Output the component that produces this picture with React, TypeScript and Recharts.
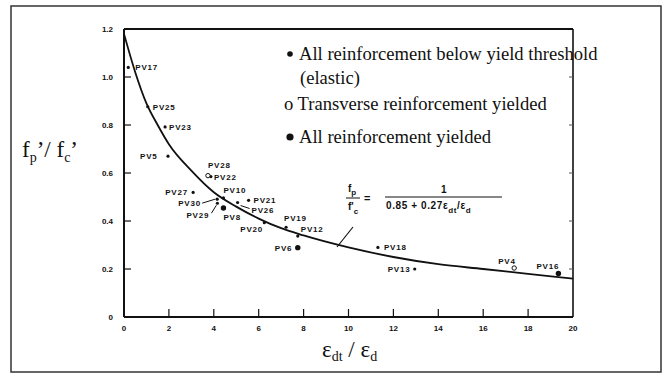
import React from 'react';
import { ComposedChart, Line, Scatter, XAxis, YAxis } from 'recharts';

const xDomain = [0, 20];
const yDomain = [0, 1.2];
const xTicks = [0, 2, 4, 6, 8, 10, 12, 14, 16, 18, 20];
const yTicks = [0, 0.2, 0.4, 0.6, 0.8, 1.0, 1.2];
const rightTicks = [0.2, 0.4, 0.6, 0.8, 1.0];

// design curve, read along its length
const curveX = [0, 0.5, 1, 1.5, 2, 3, 4, 5, 6, 7, 8, 10, 12, 14, 16, 18, 20];
const curveY = [1.18, 1.02, 0.89, 0.8, 0.72, 0.61, 0.52, 0.46, 0.41, 0.37, 0.34, 0.29, 0.25, 0.22, 0.2, 0.18, 0.16];

// all reinforcement below yield (small dots)
const elasticNames = ['PV17', 'PV25', 'PV23', 'PV5', 'PV22', 'PV27', 'PV10', 'PV30', 'PV29', 'PV26', 'PV21', 'PV20', 'PV19', 'PV12', 'PV18', 'PV13'];
const elasticX = [0.19, 1.06, 1.83, 1.96, 3.87, 3.08, 4.43, 4.15, 4.16, 5.06, 5.55, 6.25, 7.22, 7.74, 11.31, 12.95];
const elasticY = [1.04, 0.876, 0.792, 0.67, 0.585, 0.519, 0.496, 0.491, 0.474, 0.477, 0.486, 0.393, 0.374, 0.337, 0.29, 0.2];

// transverse reinforcement yielded (open circles)
const transverseNames = ['PV28', 'PV4'];
const transverseX = [3.74, 17.38];
const transverseY = [0.589, 0.204];

// all reinforcement yielded (big dots)
const yieldedNames = ['PV8', 'PV6', 'PV16'];
const yieldedX = [4.43, 7.74, 19.35];
const yieldedY = [0.454, 0.289, 0.181];

// label placement relative to each marker: [dx, dy]
const labelPos: Record<string, [number, number]> = {
  PV17: [7, 3], PV25: [5, 3], PV23: [4, 3], PV5: [-28, 3], PV28: [0, -8], PV22: [3, 3],
  PV27: [-28, 3], PV10: [0, -5], PV30: [-39, 7], PV29: [-31, 15], PV8: [0, 12], PV26: [14, 10],
  PV21: [5, 3], PV20: [-24, 9], PV19: [-2, -6], PV12: [3, -4], PV6: [-23, 3], PV18: [6, 3],
  PV13: [-27, 3], PV4: [-16, -4], PV16: [-22, -5],
};
// leader lines: [x1, y1, x2, y2] relative to marker
const leaders: Record<string, [number, number, number, number]> = {
  PV30: [-15, 4, -2, 0],
  PV29: [-6, 10, -1, 2],
  PV26: [3, 3, 12, 6],
};

const toPoints = (names: string[], xs: number[], ys: number[]) =>
  names.map((name, i) => ({ name, x: xs[i], y: ys[i] }));

const curve = curveX.map((x, i) => ({ x, y: curveY[i] }));
const elastic = toPoints(elasticNames, elasticX, elasticY);
const transverse = toPoints(transverseNames, transverseX, transverseY);
const yielded = toPoints(yieldedNames, yieldedX, yieldedY);

// plot frame and inward tick marks, placed through the chart's scales
const frameLeft = yDomain.map((y) => ({ x: xDomain[0], y }));
const frameRight = yDomain.map((y) => ({ x: xDomain[1], y }));
const frameBottom = xDomain.map((x) => ({ x, y: yDomain[0] }));
const frameTop = xDomain.map((x) => ({ x, y: yDomain[1] }));
const leftTickPts = yTicks.slice(1, -1).map((y) => ({ x: xDomain[0], y }));
const bottomTickPts = xTicks.slice(1, -1).map((x) => ({ x, y: yDomain[0] }));
const rightTickPts = rightTicks.map((y) => ({ x: xDomain[1], y }));

const labelFont = { fontFamily: 'Liberation Sans, Arial, sans-serif', fontSize: 8, fontWeight: 700, letterSpacing: 0.8 };

const makeShape = (kind: 'dot' | 'open' | 'big') => (props: any) => {
  const { cx, cy, payload } = props;
  const [dx, dy] = labelPos[payload.name] || [5, 3];
  const ld = leaders[payload.name];
  return (
    <g>
      {kind === 'dot' && <circle cx={cx} cy={cy} r={1.6} fill="#111" />}
      {kind === 'open' && <circle cx={cx} cy={cy} r={2.2} fill="#fff" stroke="#111" strokeWidth={1} />}
      {kind === 'big' && <circle cx={cx} cy={cy} r={2.7} fill="#111" />}
      {ld && <line x1={cx + ld[0]} y1={cy + ld[1]} x2={cx + ld[2]} y2={cy + ld[3]} stroke="#111" strokeWidth={1} />}
      <text x={cx + dx} y={cy + dy} fill="#111" {...labelFont}>{payload.name}</text>
    </g>
  );
};

const tickMark = (dir: 'left' | 'bottom' | 'right') => (props: any) => {
  const { cx, cy } = props;
  if (dir === 'left') return <line x1={cx} y1={cy} x2={cx + 7} y2={cy} stroke="#111" strokeWidth={1.2} />;
  if (dir === 'bottom') return <line x1={cx} y1={cy} x2={cx} y2={cy - 8} stroke="#111" strokeWidth={1.2} />;
  return <line x1={cx - 4} y1={cy} x2={cx} y2={cy} stroke="#555" strokeWidth={1} />;
};

const tickFont = { fontFamily: 'Liberation Sans, Arial, sans-serif', fontSize: 8, fontWeight: 700, fill: '#111' };

const YTick = (props: any) => {
  const v = Number(props.payload.value);
  return (
    <text x={Number(props.x)} y={Number(props.y)} dy={3} textAnchor="end" {...tickFont}>
      {v === 0 ? '0' : v.toFixed(1)}
    </text>
  );
};

const XTick = (props: any) => (
  <text x={Number(props.x)} y={Number(props.y)} dy={8} textAnchor="middle" {...tickFont}>
    {props.payload.value}
  </text>
);

const serif = 'Liberation Serif, Times New Roman, serif';

const Overlay = () => (
  <svg width={669} height={376} style={{ position: 'absolute', left: 0, top: 0 }}>
    <rect x={11} y={6} width={650} height={366} fill="none" stroke="#333" strokeWidth={1.5} />
    {/* legend */}
    <g fontFamily={serif} fontSize={18.6} fill="#111">
      <circle cx={290} cy={54} r={2.8} fill="#111" />
      <text x={299} y={60}>All reinforcement below yield threshold</text>
      <text x={300} y={84}>(elastic)</text>
      <text x={284} y={110}>o Transverse reinforcement yielded</text>
      <circle cx={290} cy={137} r={3.6} fill="#111" />
      <text x={299} y={143}>All reinforcement yielded</text>
    </g>
    {/* y axis title */}
    <text x={22} y={157} fontFamily={serif} fontSize={23} fill="#111">
      f<tspan fontSize={14} dy={5}>p</tspan><tspan dy={-5}>’/ f</tspan><tspan fontSize={14} dy={5}>c</tspan><tspan dy={-5}>’</tspan>
    </text>
    {/* x axis title */}
    <text x={322} y={357} fontFamily={serif} fontSize={23} fill="#111">
      ε<tspan fontSize={14} dy={4}>dt</tspan><tspan dy={-4}> / ε</tspan><tspan fontSize={14} dy={4}>d</tspan>
    </text>
    {/* equation */}
    <g fontFamily="Liberation Sans, Arial, sans-serif" fontWeight={700} fontSize={10} fill="#111">
      <text x={348} y={192}>f<tspan fontSize={8} dy={3}>p</tspan></text>
      <line x1={346} y1={198} x2={360} y2={198} stroke="#111" strokeWidth={1} />
      <text x={348} y={210}>f'<tspan fontSize={8} dy={4}>c</tspan></text>
      <text x={364} y={202} fontSize={11}>=</text>
      <text x={441} y={193}>1</text>
      <line x1={385} y1={197} x2={502} y2={197} stroke="#111" strokeWidth={1} />
      <text x={386} y={209} letterSpacing={0.6}>0.85 + 0.27ε<tspan fontSize={8} dy={4}>dt</tspan><tspan dy={-4}>/ε</tspan><tspan fontSize={8} dy={4}>d</tspan></text>
      <line x1={337} y1={247} x2={353} y2={227} stroke="#111" strokeWidth={1.2} />
    </g>
  </svg>
);

export default function App() {
  return (
    <div style={{ position: 'absolute', left: 0, top: 0, width: 669, height: 376, background: '#fff' }}>
      <Overlay />
      <div style={{ position: 'absolute', left: 0, top: 0 }}>
        <ComposedChart width={669} height={376} margin={{ top: 29, right: 96, bottom: 29, left: 94 }}>
          <XAxis
            type="number"
            dataKey="x"
            domain={xDomain}
            ticks={xTicks}
            interval={0}
            height={30}
            tickSize={0}
            tickMargin={6}
            tick={<XTick />}
            tickLine={false}
            axisLine={{ stroke: '#111', strokeWidth: 2 }}
          />
          <YAxis
            type="number"
            dataKey="y"
            domain={yDomain}
            ticks={yTicks}
            interval={0}
            width={30}
            tickSize={0}
            tickMargin={11}
            tick={<YTick />}
            tickLine={false}
            axisLine={{ stroke: '#111', strokeWidth: 2 }}
          />
          <Line data={frameLeft} dataKey="y" type="linear" stroke="#111" strokeWidth={2} dot={false} isAnimationActive={false} />
          <Line data={frameBottom} dataKey="y" type="linear" stroke="#111" strokeWidth={2} dot={false} isAnimationActive={false} />
          <Line data={frameTop} dataKey="y" type="linear" stroke="#111" strokeWidth={2} dot={false} isAnimationActive={false} />
          <Line data={frameRight} dataKey="y" type="linear" stroke="#111" strokeWidth={1.6} dot={false} isAnimationActive={false} />
          <Scatter data={leftTickPts} dataKey="y" shape={tickMark('left')} isAnimationActive={false} />
          <Scatter data={bottomTickPts} dataKey="y" shape={tickMark('bottom')} isAnimationActive={false} />
          <Scatter data={rightTickPts} dataKey="y" shape={tickMark('right')} isAnimationActive={false} />
          <Line data={curve} dataKey="y" type="monotone" stroke="#111" strokeWidth={1.8} dot={false} isAnimationActive={false} />
          <Scatter data={elastic} dataKey="y" shape={makeShape('dot')} isAnimationActive={false} />
          <Scatter data={transverse} dataKey="y" shape={makeShape('open')} isAnimationActive={false} />
          <Scatter data={yielded} dataKey="y" shape={makeShape('big')} isAnimationActive={false} />
        </ComposedChart>
      </div>
    </div>
  );
}
